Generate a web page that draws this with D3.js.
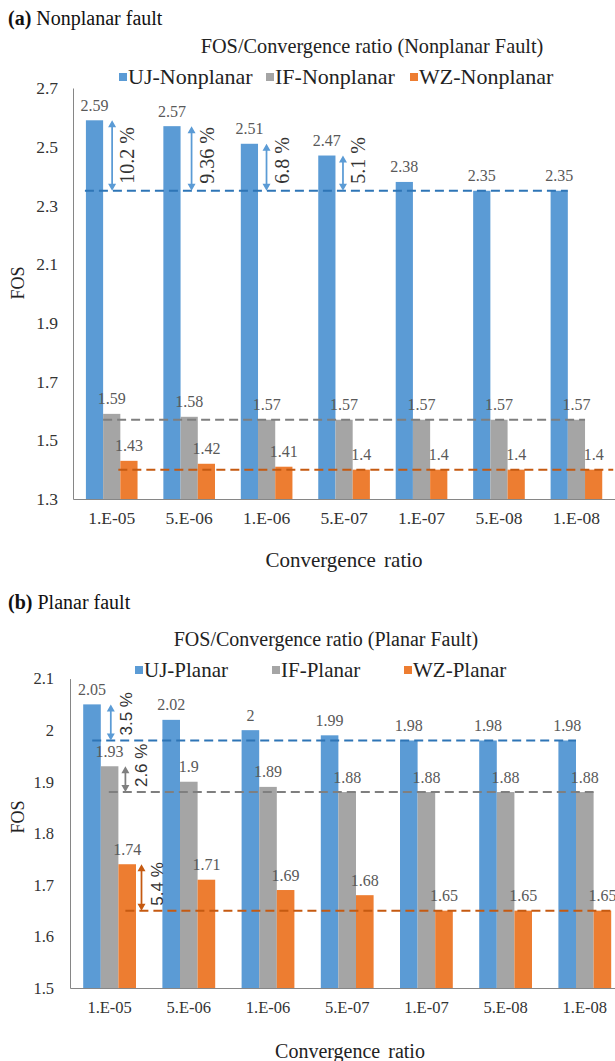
<!DOCTYPE html>
<html>
<head>
<meta charset="utf-8">
<script src="https://cdn.jsdelivr.net/npm/d3@7"></script>
<style>
  html, body { margin: 0; padding: 0; background: #fff; }
  svg { display: block; }
</style>
</head>
<body>
<svg id="chart" width="615" height="1061"></svg>
<script>
// ---- data ----
const categories = ["1.E-05", "5.E-06", "1.E-06", "5.E-07", "1.E-07", "5.E-08", "1.E-08"];

// (a) nonplanar fault
const seriesNamesA = ["UJ-Nonplanar", "IF-Nonplanar", "WZ-Nonplanar"];
const ujNonplanar = [2.59, 2.57, 2.51, 2.47, 2.38, 2.35, 2.35];
const ifNonplanar = [1.59, 1.58, 1.57, 1.57, 1.57, 1.57, 1.57];
const wzNonplanar = [1.43, 1.42, 1.41, 1.4, 1.4, 1.4, 1.4];
const yTicksA = [1.3, 1.5, 1.7, 1.9, 2.1, 2.3, 2.5, 2.7];
const convergedA = [2.35, 1.57, 1.4];
const spreadCatsA = [0, 1, 2, 3];
const spreadSeriesA = [0, 0, 0, 0];
const spreadLabelsA = ["10.2 %", "9.36 %", "6.8 %", "5.1 %"];

// (b) planar fault
const seriesNamesB = ["UJ-Planar", "IF-Planar", "WZ-Planar"];
const ujPlanar = [2.05, 2.02, 2, 1.99, 1.98, 1.98, 1.98];
const ifPlanar = [1.93, 1.9, 1.89, 1.88, 1.88, 1.88, 1.88];
const wzPlanar = [1.74, 1.71, 1.69, 1.68, 1.65, 1.65, 1.65];
const yTicksB = [1.5, 1.6, 1.7, 1.8, 1.9, 2, 2.1];
const convergedB = [1.98, 1.88, 1.65];
const spreadCatsB = [0, 0, 0];
const spreadSeriesB = [0, 1, 2];
const spreadLabelsB = ["3.5 %", "2.6 %", "5.4 %"];

// ---- styling ----
const SERIF = "'Liberation Serif', 'Times New Roman', serif";
const SANS = "'Liberation Sans', Arial, sans-serif";
const barColors = ["#5B9BD5", "#A5A5A5", "#ED7D31"];
const lineColors = ["#2E75B6", "#7F7F7F", "#C55A11"];
const arrowColors = ["#5B9BD5", "#7F7F7F", "#C55A11"];
const axisColor = "#868686";
const labelColor = "#595959";

const svg = d3.select("#chart").attr("font-family", SERIF);

function drawPanel(cfg) {
  const g = svg.append("g");
  const n = categories.length;

  const x0 = d3.scaleBand().domain(categories)
    .range([cfg.left, cfg.left + cfg.band * n]);
  const x1 = d3.scaleBand().domain(d3.range(cfg.values.length))
    .range([0, x0.bandwidth()]).paddingOuter(0.75).paddingInner(0);
  const bw = x1.bandwidth();
  const y = d3.scaleLinear().domain(cfg.yDomain).range([cfg.bottom, cfg.top]);

  // header and title
  const head = g.append("text").attr("x", 8).attr("y", cfg.headY)
    .attr("font-size", 20).attr("fill", "#111");
  head.append("tspan").attr("font-weight", "bold").text(cfg.tag);
  head.append("tspan").text(" " + cfg.heading);

  g.append("text").attr("x", cfg.titleX).attr("y", cfg.titleY)
    .attr("text-anchor", "middle").attr("font-size", cfg.titleSize).attr("fill", "#222")
    .text(cfg.title);

  // legend
  cfg.names.forEach((name, s) => {
    g.append("rect").attr("x", cfg.legendX[s]).attr("y", cfg.legendY - 4)
      .attr("width", 8).attr("height", 8).attr("fill", barColors[s]);
    g.append("text").attr("x", cfg.legendX[s] + 9).attr("y", cfg.legendY + 7)
      .attr("font-size", cfg.legendSize).attr("fill", "#222").text(name);
  });

  // bars
  cfg.values.forEach((vals, s) => {
    g.append("g").selectAll("rect").data(vals).join("rect")
      .attr("x", (d, i) => x0(categories[i]) + x1(s))
      .attr("y", d => y(d))
      .attr("width", bw)
      .attr("height", d => y(cfg.yDomain[0]) - y(d))
      .attr("fill", barColors[s]);
  });

  // value labels
  cfg.values.forEach((vals, s) => {
    g.append("g").selectAll("text").data(vals).join("text")
      .attr("x", (d, i) => x0(categories[i]) + x1(s) + bw / 2)
      .attr("y", d => y(d) - 9.5)
      .attr("text-anchor", "middle").attr("font-size", 16)
      .attr("fill", labelColor)
      .text(d => d3.format("~g")(d));
  });

  // converged-value reference lines
  cfg.converged.forEach((v, s) => {
    const xStart = x0(categories[0]) + x1(s) + cfg.lineStart[s];
    const xEnd = x0(categories[n - 1]) + x1(s) + bw + cfg.lineEnd[s];
    g.append("line").attr("x1", xStart).attr("x2", xEnd)
      .attr("y1", y(v)).attr("y2", y(v))
      .attr("stroke", lineColors[s]).attr("stroke-width", 2)
      .attr("stroke-dasharray", "9,5");
  });

  // percentage spread arrows
  cfg.spreadCats.forEach((ci, k) => {
    const s = cfg.spreadSeries[k];
    const top = y(cfg.values[s][ci]);
    const bot = y(cfg.converged[s]);
    const ax = x0(categories[ci]) + x1(s) + bw + cfg.arrowGap[k];
    const c = cfg.arrowColor(s);
    const hl = 7, hw = 4;
    g.append("line").attr("x1", ax).attr("x2", ax)
      .attr("y1", top + hl - 1).attr("y2", bot - hl + 1)
      .attr("stroke", c).attr("stroke-width", 1.75);
    g.append("path")
      .attr("d", `M${ax},${top}L${ax - hw},${top + hl}L${ax + hw},${top + hl}Z` +
                 `M${ax},${bot}L${ax - hw},${bot - hl}L${ax + hw},${bot - hl}Z`)
      .attr("fill", c);
    const tx = ax + cfg.spreadTextDx;
    const ty = bot - cfg.spreadTextDy;
    g.append("text").attr("x", tx).attr("y", ty)
      .attr("transform", `rotate(-90,${tx},${ty})`)
      .attr("dominant-baseline", "central")
      .attr("font-family", cfg.spreadFont)
      .attr("font-size", cfg.spreadSize).attr("fill", "#333")
      .text(cfg.spreadLabels[k]);
  });

  // axes
  const yAxis = g.append("g").attr("transform", `translate(${cfg.left},0)`)
    .call(d3.axisLeft(y).tickValues(cfg.yTicks).tickSize(0).tickSizeOuter(0)
      .tickPadding(cfg.yPad).tickFormat(d3.format("~g")));
  yAxis.attr("font-family", SERIF);
  yAxis.select(".domain").attr("stroke", axisColor).attr("stroke-width", 1);
  yAxis.selectAll("text").attr("font-size", cfg.tickSize).attr("fill", "#333");

  const xAxis = g.append("g").attr("transform", `translate(0,${cfg.bottom})`)
    .call(d3.axisBottom(x0).tickSize(0).tickSizeOuter(0).tickPadding(13));
  xAxis.attr("font-family", SERIF);
  xAxis.select(".domain").attr("stroke", axisColor).attr("stroke-width", 1.2);
  xAxis.selectAll("text").attr("font-size", cfg.tickSize).attr("fill", "#333");

  // axis titles
  g.append("text")
    .attr("transform", `translate(18,${cfg.yTitleY}) rotate(-90)`)
    .attr("text-anchor", "middle").attr("dominant-baseline", "central")
    .attr("font-size", 18).attr("fill", "#222").text("FOS");
  g.append("text").attr("x", cfg.xTitleX).attr("y", cfg.xTitleY)
    .attr("text-anchor", "middle").attr("font-size", cfg.xTitleSize).attr("fill", "#222")
    .attr("word-spacing", 3)
    .text("Convergence ratio");
}

drawPanel({
  tag: "(a)", heading: "Nonplanar fault", headY: 25,
  title: "FOS/Convergence ratio (Nonplanar Fault)", titleX: 372, titleY: 53, titleSize: 20.3,
  names: seriesNamesA, legendX: [119, 266, 410], legendY: 77, legendSize: 22,
  values: [ujNonplanar, ifNonplanar, wzNonplanar],
  converged: convergedA,
  yDomain: [1.3, 2.7], yTicks: yTicksA, tickSize: 17.5,
  left: 73, band: 77.45, top: 88, bottom: 499, yPad: 15,
  lineStart: [-1, 0, -2], lineEnd: [0, 0, 11],
  spreadCats: spreadCatsA, spreadSeries: spreadSeriesA, spreadLabels: spreadLabelsA,
  arrowGap: [9, 11, 8.5, 7.5], arrowColor: () => arrowColors[0],
  spreadTextDx: 15, spreadTextDy: 7,
  spreadFont: SERIF, spreadSize: 20,
  yTitleY: 283, xTitleX: 344, xTitleY: 567, xTitleSize: 21
});

drawPanel({
  tag: "(b)", heading: "Planar fault", headY: 609,
  title: "FOS/Convergence ratio (Planar Fault)", titleX: 326, titleY: 646, titleSize: 20,
  names: seriesNamesB, legendX: [135, 272, 404], legendY: 670, legendSize: 21,
  values: [ujPlanar, ifPlanar, wzPlanar],
  converged: convergedB,
  yDomain: [1.5, 2.1], yTicks: yTicksB, tickSize: 16.5,
  left: 70, band: 79.2, top: 678.6, bottom: 988, yPad: 16,
  lineStart: [9, 8, 7], lineEnd: [0, 0, 30],
  spreadCats: spreadCatsB, spreadSeries: spreadSeriesB, spreadLabels: spreadLabelsB,
  arrowGap: [10, 7, 5.5], arrowColor: s => arrowColors[s],
  spreadTextDx: 16, spreadTextDy: 5,
  spreadFont: SANS, spreadSize: 17,
  yTitleY: 817, xTitleX: 350, xTitleY: 1058, xTitleSize: 20
});
</script>
</body>
</html>
